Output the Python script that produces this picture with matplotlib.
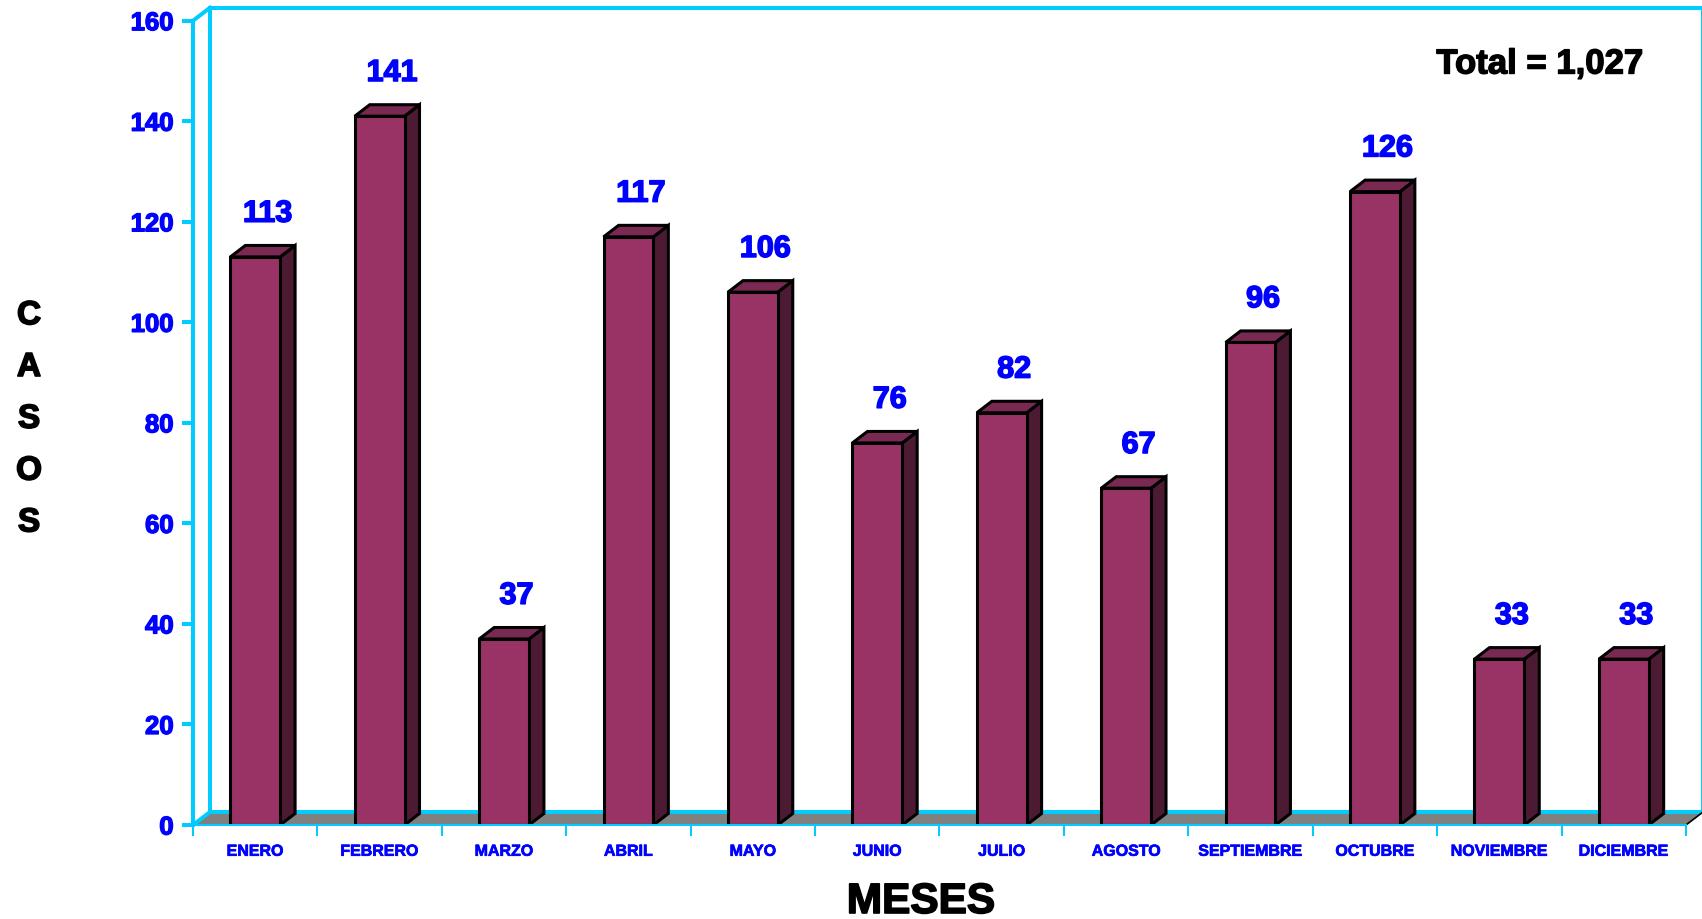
import matplotlib
matplotlib.use("Agg")
import matplotlib.pyplot as plt
from matplotlib.patches import Polygon
import matplotlib.patheffects as pe
import numpy as np

plt.rcParams['font.family'] = ['Liberation Sans', 'DejaVu Sans']
plt.rcParams['font.weight'] = 'bold'

months = ["ENERO", "FEBRERO", "MARZO", "ABRIL", "MAYO", "JUNIO", "JULIO",
          "AGOSTO", "SEPTIEMBRE", "OCTUBRE", "NOVIEMBRE", "DICIEMBRE"]
casos = [113, 141, 37, 117, 106, 76, 82, 67, 96, 126, 33, 33]
y_ticks = [0, 20, 40, 60, 80, 100, 120, 140, 160]
total_text = "Total = 1,027"

W, H = 1702, 920
fig = plt.figure(figsize=(W / 100, H / 100), dpi=100)
fig.patch.set_facecolor("white")

left_px, right_px, top_px, bot_px = 193, 1686, 21.7, 826
ax = fig.add_axes([left_px / W, 1 - bot_px / H, (right_px - left_px) / W, (bot_px - top_px) / H])
n = len(months)
ax.set_xlim(0, n)
ax.set_ylim(0, 160)
ax.set_facecolor("none")

CYAN = "#00CCFF"
BLUE = "#0000FF"
FRONT = "#993366"
SIDE = "#4D1A33"
TOP = "#7A2952"

def heavy(color, w=0.9):
    return [pe.withStroke(linewidth=w, foreground=color)]

px_x = n / (right_px - left_px)     # data units per px in x
px_y = 160 / (bot_px - top_px)      # data units per px in y
wdx, wdy = 17 * px_x, 13 * px_y     # wall depth
bdx, bdy = 15 * px_x, 11.5 * px_y   # bar depth
lw4 = 4 * 0.72
lw2 = 2 * 0.72

# floor
floor = Polygon([(0, 0), (n, 0), (n + wdx, wdy), (wdx, wdy)], closed=True,
                facecolor="#808080", edgecolor="none", zorder=1, clip_on=False)
ax.add_patch(floor)
ax.plot([n, n + wdx], [0, wdy], color="black", lw=1.2, zorder=1.5, clip_on=False)

# back walls
ax.plot([wdx, wdx, n + wdx, n + wdx], [wdy, 160 + wdy, 160 + wdy, wdy], color=CYAN, lw=lw4,
        zorder=1.2, clip_on=False, solid_joinstyle="miter")
ax.plot([wdx, n + wdx], [wdy, wdy], color=CYAN, lw=lw4, zorder=1.2, clip_on=False)
ax.plot([0, wdx], [160, 160 + wdy], color=CYAN, lw=lw4, zorder=1.2, clip_on=False)
ax.plot([0, wdx], [0, wdy], color=CYAN, lw=lw4, zorder=1.2, clip_on=False)

# bars
bw = 0.40
x = np.arange(n) + 0.5
ax.bar(x, casos, width=bw, color=FRONT, edgecolor="black", linewidth=2.2, zorder=3)
for xi, v in zip(x, casos):
    xl, xr = xi - bw / 2, xi + bw / 2
    side = Polygon([(xr, 0), (xr + bdx, bdy), (xr + bdx, v + bdy), (xr, v)], closed=True,
                   facecolor=SIDE, edgecolor="black", linewidth=2.2, zorder=2.5, joinstyle="miter")
    top = Polygon([(xl, v), (xr, v), (xr + bdx, v + bdy), (xl + bdx, v + bdy)], closed=True,
                  facecolor=TOP, edgecolor="black", linewidth=2.2, zorder=2.5, joinstyle="miter")
    ax.add_patch(side)
    ax.add_patch(top)
    ax.text(xi + 0.1, v + 7, str(v), ha="center", va="baseline", color=BLUE,
            fontsize=22, fontweight="bold", zorder=5, path_effects=heavy(BLUE, 1.1))

# spines and ticks
for s in ["top", "right"]:
    ax.spines[s].set_visible(False)
ax.spines["left"].set_color(CYAN)
ax.spines["left"].set_linewidth(lw4)
ax.spines["bottom"].set_color(CYAN)
ax.spines["bottom"].set_linewidth(lw2)
ax.spines["left"].set_zorder(4)
ax.spines["bottom"].set_zorder(4)

ax.set_yticks(y_ticks)
ax.set_yticklabels([str(t) for t in y_ticks])
ax.tick_params(axis="y", colors=CYAN, labelcolor=BLUE, length=8, width=lw4,
               pad=6, labelsize=18.5)
for lab in ax.get_yticklabels():
    lab.set_fontweight("bold")
    lab.set_path_effects(heavy(BLUE, 1.0))

ax.set_xticks(np.arange(n + 1))
ax.set_xticklabels([])
ax.set_xticks(x, minor=True)
ax.set_xticklabels(months, minor=True)
ax.tick_params(axis="x", which="major", colors=CYAN, length=8, width=lw2)
ax.tick_params(axis="x", which="minor", length=0, pad=13.5, labelcolor=BLUE, labelsize=11.5)
for lab in ax.get_xticklabels(minor=True):
    lab.set_fontweight("bold")
    lab.set_path_effects(heavy(BLUE, 0.5))

# titles
fig.text(921 / W, 1 - 903 / H, "MESES", ha="center", va="center", fontsize=30.5,
         fontweight="bold", color="black", path_effects=heavy("black", 1.2))
for i, ch in enumerate("CASOS"):
    fig.text(29 / W, 1 - (316.7 + i * 51.8) / H, ch, ha="center", va="center",
             fontsize=24, fontweight="bold", color="black", path_effects=heavy("black", 1.2))
fig.text(1643 / W, 1 - 65 / H, total_text, ha="right", va="center", fontsize=25,
         fontweight="bold", color="black", path_effects=heavy("black", 1.0))

fig.savefig("out.png", dpi=100, facecolor="white")
